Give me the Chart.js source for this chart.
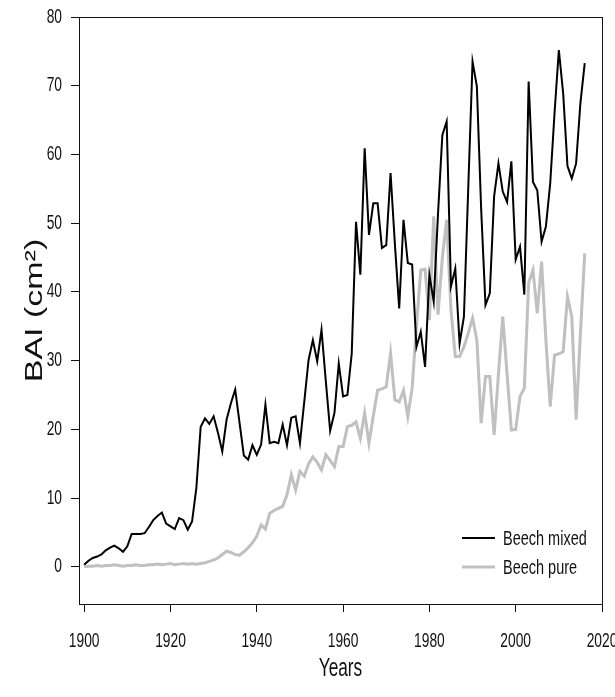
<!DOCTYPE html>
<html>
<head>
<meta charset="utf-8">
<script src="https://cdn.jsdelivr.net/npm/chart.js@4"></script>
<style>
  html, body { margin: 0; padding: 0; background: #fff; }
  canvas { display: block; }
</style>
</head>
<body>
<canvas id="baiChart" width="615" height="697"></canvas>
<script>
// years of the chronology
const years = [
  1900, 1901, 1902, 1903, 1904, 1905, 1906, 1907, 1908, 1909,
  1910, 1911, 1912, 1913, 1914, 1915, 1916, 1917, 1918, 1919,
  1920, 1921, 1922, 1923, 1924, 1925, 1926, 1927, 1928, 1929,
  1930, 1931, 1932, 1933, 1934, 1935, 1936, 1937, 1938, 1939,
  1940, 1941, 1942, 1943, 1944, 1945, 1946, 1947, 1948, 1949,
  1950, 1951, 1952, 1953, 1954, 1955, 1956, 1957, 1958, 1959,
  1960, 1961, 1962, 1963, 1964, 1965, 1966, 1967, 1968, 1969,
  1970, 1971, 1972, 1973, 1974, 1975, 1976, 1977, 1978, 1979,
  1980, 1981, 1982, 1983, 1984, 1985, 1986, 1987, 1988, 1989,
  1990, 1991, 1992, 1993, 1994, 1995, 1996, 1997, 1998, 1999,
  2000, 2001, 2002, 2003, 2004, 2005, 2006, 2007, 2008, 2009,
  2010, 2011, 2012, 2013, 2014, 2015, 2016
];

// BAI (cm2), beech in mixed stands
const beechMixed = [
  0.3, 0.9, 1.3, 1.5, 1.8, 2.4, 2.8, 3.1, 2.7, 2.2,
  3.0, 4.8, 4.8, 4.8, 4.9, 5.8, 6.8, 7.4, 7.9, 6.3,
  5.9, 5.5, 7.1, 6.8, 5.4, 6.6, 11.5, 20.4, 21.6, 20.8,
  21.9, 19.5, 16.8, 21.4, 23.8, 25.8, 21.0, 16.2, 15.6, 17.7,
  16.3, 17.8, 23.6, 18.0, 18.2, 18.0, 20.7, 17.7, 21.7, 21.9,
  18.0, 24.0, 30.1, 33.0, 29.9, 34.5, 27.0, 19.8, 22.4, 29.6,
  24.8, 25.0, 31.0, 50.2, 42.5, 60.9, 48.3, 52.9, 52.9, 46.4,
  46.8, 57.3, 47.0, 37.6, 50.5, 44.2, 44.0, 32.0, 34.2, 29.1,
  42.5, 38.6, 51.4, 62.8, 64.8, 40.8, 43.4, 32.5, 36.4, 55.0,
  73.5, 69.9, 52.0, 38.1, 39.8, 53.9, 58.7, 54.6, 53.1, 59.0,
  44.7, 46.6, 39.6, 70.6, 56.0, 54.8, 47.3, 49.5, 55.8, 66.0,
  75.2, 68.9, 58.3, 56.5, 58.7, 67.5, 73.3
];

// BAI (cm2), beech in pure stands
const beechPure = [
  0.0, 0.1, 0.1, 0.2, 0.1, 0.2, 0.2, 0.3, 0.2, 0.1,
  0.2, 0.2, 0.3, 0.2, 0.2, 0.3, 0.3, 0.4, 0.3, 0.4,
  0.5, 0.3, 0.4, 0.5, 0.4, 0.5, 0.4, 0.5, 0.6, 0.8,
  1.0, 1.3, 1.8, 2.3, 2.1, 1.8, 1.7, 2.2, 2.8, 3.5,
  4.5, 6.1, 5.5, 7.8, 8.2, 8.5, 8.8, 10.5, 13.4, 11.2,
  13.9, 13.2, 15.0, 16.0, 15.2, 14.1, 16.3, 15.5, 14.6, 17.5,
  17.5, 20.4, 20.6, 21.1, 18.7, 22.4, 18.0, 22.0, 25.7, 25.9,
  26.2, 31.1, 24.3, 24.0, 25.7, 21.9, 26.0, 35.0, 43.2, 43.3,
  35.9, 51.0, 36.7, 45.0, 50.5, 37.4, 30.6, 30.6, 32.0, 34.0,
  36.2, 33.0, 20.9, 27.7, 27.7, 19.2, 28.0, 36.4, 28.0, 19.9,
  20.0, 24.8, 26.0, 41.3, 43.2, 36.9, 44.4, 33.0, 23.3, 30.8,
  31.0, 31.3, 39.3, 36.4, 21.4, 34.0, 45.6
];

const xTicks = [1900, 1920, 1940, 1960, 1980, 2000, 2020];
const yTicks = [0, 10, 20, 30, 40, 50, 60, 70, 80];

const FONT = "'Liberation Sans', Arial, sans-serif";

const canvas = document.getElementById('baiChart');
const ctx = canvas.getContext('2d');

// the original figure was stretched vertically, so its lettering is tall and narrow.
// squeeze the screen-horizontal direction of every text run round its own anchor:
// along the baseline for flat text, across it for the rotated y title
const SQUEEZE = 0.69;
const rawFillText = ctx.fillText.bind(ctx);
ctx.fillText = function (text, x, y, maxWidth) {
    const m = ctx.getTransform();
    const rotated = Math.abs(m.b) > 0.5;
    ctx.save();
    ctx.translate(x, y);
    if (rotated) {
        ctx.scale(1, SQUEEZE);
    } else {
        ctx.scale(SQUEEZE, 1);
    }
    if (maxWidth === undefined || rotated) {
        rawFillText(text, 0, 0);
    } else {
        rawFillText(text, 0, 0, maxWidth / SQUEEZE);
    }
    ctx.restore();
};

// box round the plot region, like R's box()
const frameBox = {
    id: 'frameBox',
    afterDatasetsDraw(chart) {
        const a = chart.chartArea;
        const c = chart.ctx;
        c.save();
        c.strokeStyle = '#111';
        c.lineWidth = 1;
        c.strokeRect(Math.round(a.left) + 0.5, Math.round(a.top) + 0.5,
            Math.round(a.right - a.left), Math.round(a.bottom - a.top));
        c.restore();
    }
};

// legend drawn inside the plot, bottom right
const innerLegend = {
    id: 'innerLegend',
    afterDraw(chart) {
        const c = chart.ctx;
        c.save();
        c.font = '21px ' + FONT;
        c.textBaseline = 'middle';
        c.textAlign = 'left';
        c.fillStyle = '#111';
        chart.data.datasets.forEach((ds, i) => {
            const y = 538 + i * 29;
            c.strokeStyle = ds.borderColor;
            c.lineWidth = ds.borderWidth;
            c.beginPath();
            c.moveTo(462, y);
            c.lineTo(495, y);
            c.stroke();
            c.fillText(ds.label, 503, y + 1);
        });
        c.restore();
    }
};

const toPoints = (vals) => vals.map((v, i) => ({ x: years[i], y: v }));

new Chart(ctx, {
    type: 'line',
    data: {
        datasets: [
            {
                label: 'Beech mixed',
                data: toPoints(beechMixed),
                borderColor: '#000',
                borderWidth: 2,
                pointRadius: 0,
                tension: 0,
                order: 0
            },
            {
                label: 'Beech pure',
                data: toPoints(beechPure),
                borderColor: '#c0c0c0',
                borderWidth: 3,
                pointRadius: 0,
                tension: 0,
                order: 1
            }
        ]
    },
    options: {
        responsive: false,
        devicePixelRatio: 1,
        animation: false,
        layout: { padding: { top: 17, right: 13, left: 0, bottom: 0 } },
        plugins: {
            legend: { display: false },
            tooltip: { enabled: false }
        },
        scales: {
            x: {
                type: 'linear',
                bounds: 'data',
                min: 1898.8,
                max: 2020,
                afterFit: (s) => {
                    s.height = 93;
                    // let the last label run off the canvas, as in the figure
                    s.paddingLeft = 0;
                    s.paddingRight = 0;
                },
                afterBuildTicks: (s) => {
                    s.min = 1898.8;
                    s.max = 2020;
                    s.ticks = xTicks.map(v => ({ value: v }));
                },
                ticks: {
                    includeBounds: false,
                    autoSkip: false,
                    maxRotation: 0,
                    padding: 17,
                    color: '#111',
                    font: { family: FONT, size: 20 },
                    callback: (v) => String(v)
                },
                grid: {
                    drawOnChartArea: false,
                    drawTicks: true,
                    tickLength: 8,
                    color: '#111'
                },
                border: { display: true, color: '#111' },
                title: {
                    display: true,
                    text: 'Years',
                    color: '#111',
                    font: { family: FONT, size: 25 },
                    padding: { top: 0, bottom: 13 }
                }
            },
            y: {
                type: 'linear',
                bounds: 'data',
                min: -5.4,
                max: 80,
                afterFit: (s) => {
                    s.width = 79;
                    s.paddingTop = 0;
                    s.paddingBottom = 0;
                },
                afterBuildTicks: (s) => {
                    s.min = -5.4;
                    s.max = 80;
                    s.ticks = yTicks.map(v => ({ value: v }));
                },
                ticks: {
                    includeBounds: false,
                    autoSkip: false,
                    padding: 9,
                    color: '#111',
                    font: { family: FONT, size: 20 }
                },
                grid: {
                    drawOnChartArea: false,
                    drawTicks: true,
                    tickLength: 8,
                    color: '#111'
                },
                border: { display: true, color: '#111' },
                title: {
                    display: true,
                    text: 'BAI (cm²)',
                    color: '#111',
                    font: { family: FONT, size: 34 },
                    padding: { top: 15, bottom: 0 }
                }
            }
        }
    },
    plugins: [frameBox, innerLegend]
});
</script>
</body>
</html>
